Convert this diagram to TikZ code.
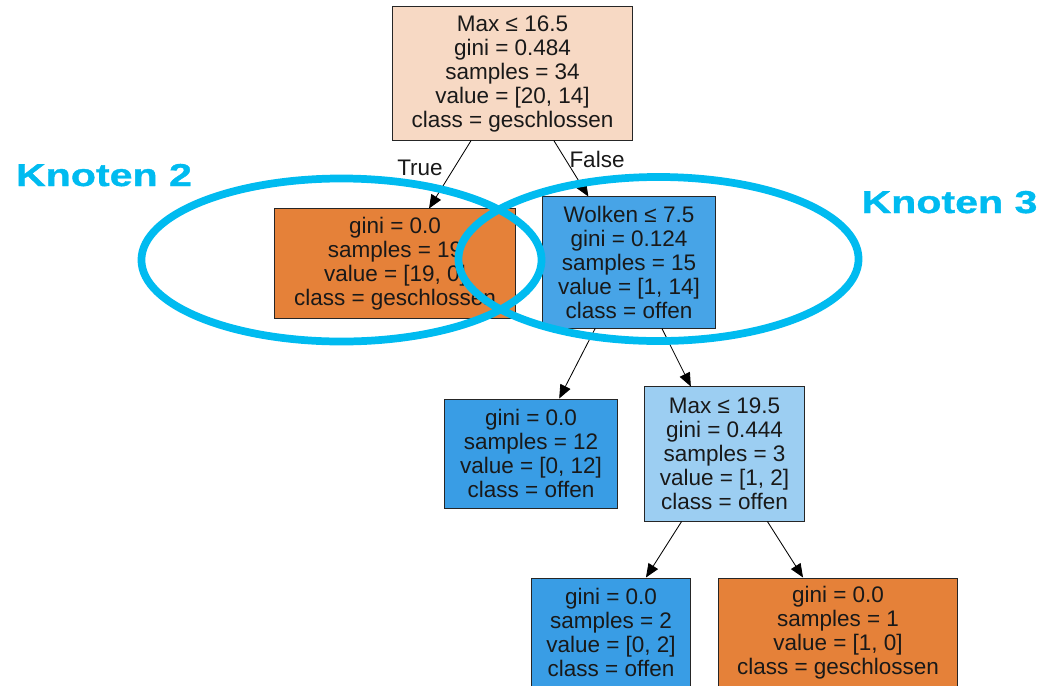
\documentclass[tikz,border=0pt]{standalone}
\usepackage{fontspec}
\setmainfont{Liberation Sans}
\newfontfamily\knotenfont[FakeStretch=1.3, FakeBold=1.2]{Liberation Sans Bold}
\usetikzlibrary{arrows.meta,shapes.geometric}

\definecolor{orangeleaf}{HTML}{E58139}
\definecolor{blueleaf}{HTML}{399DE5}
\definecolor{rootfill}{HTML}{F7D9C4}
\definecolor{bluesplit}{HTML}{47A4E7}
\definecolor{lightsplit}{HTML}{9CCEF2}
\definecolor{ringblue}{HTML}{00BBF0}

\begin{document}
\begin{tikzpicture}[x=0.025cm, y=-0.025cm, >={Triangle[length=0.34cm, width=0.28cm]},
  tree node/.style={draw=black!85, line width=0.7pt, rectangle, align=center,
    inner sep=0pt, text=black!90, font=\fontsize{16}{17.07}\selectfont},
  edge label/.style={anchor=base, text=black!90, font=\fontsize{16}{17.07}\selectfont},
  ring/.style={draw=ringblue, line width=5.5pt, ellipse, inner sep=0pt, minimum width=10cm},
  knoten/.style={anchor=base, text=ringblue, font=\knotenfont\fontsize{22.5}{24}\selectfont}]

\useasboundingbox (0,0) rectangle (1044,685);

% tree
\node [tree node, fill=rootfill, minimum width=5.975cm, minimum height=3.325cm]
  (node-0) at (512.5,73.5) {Max ≤ 16.5\\gini = 0.484\\samples = 34\\value = [20, 14]\\class = geschlossen};
\node [tree node, fill=orangeleaf, minimum width=6cm, minimum height=2.725cm]
  (node-1) at (395,263.5) {gini = 0.0\\samples = 19\\value = [19, 0]\\class = geschlossen};
\node [tree node, fill=bluesplit, minimum width=4.3cm, minimum height=3.275cm]
  (node-2) at (629,262.5) {Wolken ≤ 7.5\\gini = 0.124\\samples = 15\\value = [1, 14]\\class = offen};
\node [tree node, fill=blueleaf, minimum width=4.3cm, minimum height=2.725cm]
  (node-3) at (531,453.5) {gini = 0.0\\samples = 12\\value = [0, 12]\\class = offen};
\node [tree node, fill=lightsplit, minimum width=3.975cm, minimum height=3.35cm]
  (node-4) at (724.5,454) {Max ≤ 19.5\\gini = 0.444\\samples = 3\\value = [1, 2]\\class = offen};
\node [tree node, fill=blueleaf, minimum width=3.95cm, minimum height=2.725cm]
  (node-5) at (611,632.5) {gini = 0.0\\samples = 2\\value = [0, 2]\\class = offen};
\node [tree node, fill=orangeleaf, minimum width=5.95cm, minimum height=2.725cm]
  (node-6) at (838,632.5) {gini = 0.0\\samples = 1\\value = [1, 0]\\class = geschlossen};

\foreach \a/\b in {0/1, 0/2, 2/3, 2/4, 4/5, 4/6}
  \draw [->, line width=0.6pt] (node-\a) -- (node-\b);

\node [edge label] (label-true) at (420,175.7) {True};
\node [edge label] (label-false) at (597,167) {False};

% marks
\node [ring, minimum height=4.075cm] (ring-2) at (341.5,260) {};
\node [ring, minimum height=4.1cm] (ring-3) at (658.5,259) {};

\node [knoten] (knoten-2) at (104,186) {Knoten 2};
\node [knoten] (knoten-3) at (949.5,213) {Knoten 3};
\end{tikzpicture}
\end{document}
